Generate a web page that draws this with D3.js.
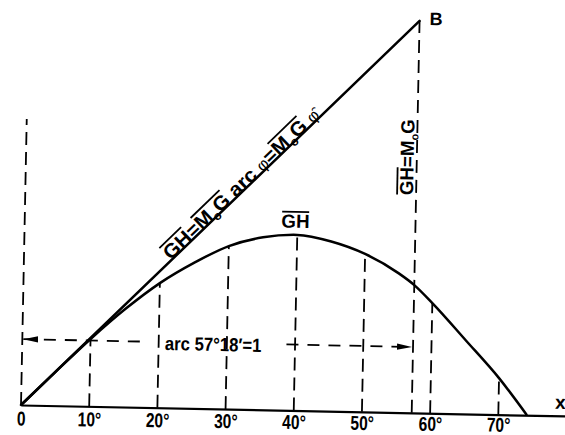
<!DOCTYPE html>
<html>
<head>
<meta charset="utf-8">
<script src="https://cdn.jsdelivr.net/npm/d3@7"></script>
<style>
  html, body { margin: 0; padding: 0; background: #fff; }
  svg { display: block; }
  text {
    font-family: "Liberation Sans", Arial, sans-serif;
    font-weight: bold;
    fill: #000;
  }
</style>
</head>
<body>
<svg id="chart" width="565" height="435"></svg>
<script>
// Heel angle φ (degrees) and righting arm GH, in units of M0G
const angles = [0, 5, 10, 15, 20, 25, 30, 35, 40, 45, 50, 55, 57.3, 60, 65, 70, 74.2];
const gh     = [0, 0.087, 0.172, 0.25, 0.318, 0.372, 0.416, 0.440, 0.448, 0.433, 0.403, 0.355, 0.326, 0.281, 0.188, 0.093, 0];

// x-axis ticks
const tickAngles = [0, 10, 20, 30, 40, 50, 60, 70];
const tickLabels = ["0", "10°", "20°", "30°", "40°", "50°", "60°", "70°"];

// verticals dropped from the curve to the axis
const dropAngles = [10, 20, 30, 40, 50, 60, 70];

// one radian: arc 57°18' = 1, where the tangent M0G·arc φ reaches B
const radianDeg = 57.3;
const tangentAtRadian = 1;
const leftGuideTop = 0.73;   // dashed guide over φ = 0
const arrowLevel = 0.168;    // height of the "arc 57°18' = 1" dimension line

const svg = d3.select("#chart");

// the whole drawing sits slightly rotated about the origin
const g = svg.append("g").attr("transform", "translate(21,405) rotate(1.15)");

const x = d3.scaleLinear().domain([0, 80]).range([0, 545.6]);
const y = d3.scaleLinear().domain([0, 1]).range([0, -392]);

const dash = "13,7";

// overline helper: draws a bar above characters i..j of a text element
function overline(textNode, i, j, lift, parent) {
  const a = textNode.getExtentOfChar(i);
  const b = textNode.getExtentOfChar(j);
  parent.append("line")
    .attr("x1", a.x + 0.5).attr("x2", b.x + b.width - 0.5)
    .attr("y1", a.y + lift).attr("y2", a.y + lift)
    .attr("stroke", "#000").attr("stroke-width", 1.8);
}

// x axis
const xAxis = d3.axisBottom(x)
  .tickValues(tickAngles)
  .tickSize(0)
  .tickPadding(0)
  .tickFormat((d, i) => tickLabels[i]);
const ax = g.append("g").call(xAxis);
ax.attr("font-family", null).attr("font-size", null);
ax.select(".domain").attr("stroke", "#000").attr("stroke-width", 2.2);
ax.selectAll(".tick text")
  .attr("y", d => 20.5 - x(d) * 0.007).attr("dy", 0)
  .attr("transform", "scale(0.78,1)")
  .style("font-size", "20px");

// dashed verticals up to the curve
g.selectAll("line.drop")
  .data(dropAngles)
  .join("line")
  .attr("class", "drop")
  .attr("x1", d => x(d)).attr("x2", d => x(d))
  .attr("y1", 0)
  .attr("y2", d => y(gh[angles.indexOf(d)]))
  .attr("stroke", "#000").attr("stroke-width", 1.8)
  .attr("stroke-dasharray", dash);

// dashed guide at φ = 0
g.append("line")
  .attr("x1", x(0)).attr("x2", x(0))
  .attr("y1", 0).attr("y2", y(leftGuideTop))
  .attr("stroke", "#000").attr("stroke-width", 1.8)
  .attr("stroke-dasharray", dash);

// dashed vertical at one radian, up to B
g.append("line")
  .attr("x1", x(radianDeg)).attr("x2", x(radianDeg))
  .attr("y1", 0).attr("y2", y(tangentAtRadian))
  .attr("stroke", "#000").attr("stroke-width", 1.8)
  .attr("stroke-dasharray", dash);

// tangent at the origin: GH = M0G·arc φ, ending at B
g.append("line")
  .attr("x1", x(0)).attr("y1", y(0))
  .attr("x2", x(radianDeg)).attr("y2", y(tangentAtRadian))
  .attr("stroke", "#000").attr("stroke-width", 2.5)
  .attr("stroke-linecap", "round");

// righting-arm curve
const curve = d3.line()
  .x((d, i) => x(angles[i]))
  .y(d => y(d))
  .curve(d3.curveMonotoneX);
g.append("path")
  .datum(gh)
  .attr("d", curve)
  .attr("fill", "none")
  .attr("stroke", "#000").attr("stroke-width", 2.5);

// arrowheads for the dimension line
const defs = svg.append("defs");
defs.append("marker")
  .attr("id", "arrow")
  .attr("viewBox", "0 0 15 8")
  .attr("refX", 15).attr("refY", 4)
  .attr("markerUnits", "userSpaceOnUse")
  .attr("markerWidth", 15).attr("markerHeight", 8)
  .attr("orient", "auto")
  .append("path")
  .attr("d", "M0,0.8 L15,4 L0,7.2 Z")
  .attr("fill", "#000");

// dimension text "arc 57°18' = 1"
const ay = y(arrowLevel);
const dimGroup = g.append("g")
  .attr("transform", `translate(${x(20.9)},${ay + 8}) scale(0.88,1)`);
const dimText = dimGroup.append("text").style("font-size", "19px");
dimText.append("tspan").text("arc  57°18′=1");
const tb = dimText.node().getBBox();
const dimLeft = x(20.9) + tb.x * 0.88;
const dimRight = x(20.9) + (tb.x + tb.width) * 0.88;

g.append("line")
  .attr("x1", dimLeft - 25).attr("x2", x(0) + 1)
  .attr("y1", ay).attr("y2", ay)
  .attr("stroke", "#000").attr("stroke-width", 1.8)
  .attr("stroke-dasharray", "12,9")
  .attr("marker-end", "url(#arrow)");
g.append("line")
  .attr("x1", dimRight + 25).attr("x2", x(radianDeg) - 1)
  .attr("y1", ay).attr("y2", ay)
  .attr("stroke", "#000").attr("stroke-width", 1.8)
  .attr("stroke-dasharray", "12,9")
  .attr("marker-end", "url(#arrow)");

// label along the tangent
const ang = Math.atan2(-y(tangentAtRadian), x(radianDeg)) * 180 / Math.PI;
const along = 203, off = 5;
const rad = ang * Math.PI / 180;
const lx = along * Math.cos(rad) + off * Math.sin(rad);
const ly = -along * Math.sin(rad) - off * Math.cos(rad);
const tg = g.append("g").attr("transform", `translate(${lx},${ly}) rotate(${-ang})`);
const tt = tg.append("text")
  .attr("textLength", 208).attr("lengthAdjust", "spacingAndGlyphs")
  .style("font-size", "20px");
tt.append("tspan").text("GH=M");
tt.append("tspan").attr("dy", 4).style("font-size", "12px").text("o");
tt.append("tspan").attr("dy", -4).text("G arc ");
tt.append("tspan").style("font-size", "16px").style("font-weight", "normal").text("φ");
tt.append("tspan").text("=M");
tt.append("tspan").attr("dy", 4).style("font-size", "12px").text("o");
tt.append("tspan").attr("dy", -4).text("G ");
tt.append("tspan").style("font-size", "16px").style("font-weight", "normal").text("φ\u0311");
overline(tt.node(), 0, 1, 1, tg);
overline(tt.node(), 3, 5, 1, tg);
overline(tt.node(), 13, 15, 1, tg);

// vertical label at one radian
const vg = g.append("g")
  .attr("transform", `translate(${x(radianDeg) - 3},${y(0.555)}) rotate(-90)`);
const vt = vg.append("text")
  .attr("textLength", 76).attr("lengthAdjust", "spacingAndGlyphs")
  .style("font-size", "19px");
vt.append("tspan").text("GH=M");
vt.append("tspan").attr("dy", 4).style("font-size", "11px").text("o");
vt.append("tspan").attr("dy", -4).text("G");
overline(vt.node(), 0, 1, 1, vg);

// label over the peak of the curve
const pg = g.append("g");
const pt = pg.append("text")
  .attr("x", x(39.7)).attr("y", y(0.448) - 7)
  .attr("text-anchor", "middle")
  .attr("textLength", 28).attr("lengthAdjust", "spacingAndGlyphs")
  .style("font-size", "19px")
  .text("GH");
overline(pt.node(), 0, 1, 1, pg);

// point B
g.append("text")
  .attr("x", x(radianDeg) + 10).attr("y", y(tangentAtRadian) + 4)
  .style("font-size", "18px")
  .text("B");

// axis name
g.append("text")
  .attr("x", x(78.3)).attr("y", -7)
  .style("font-size", "19px")
  .text("x");
</script>
</body>
</html>
